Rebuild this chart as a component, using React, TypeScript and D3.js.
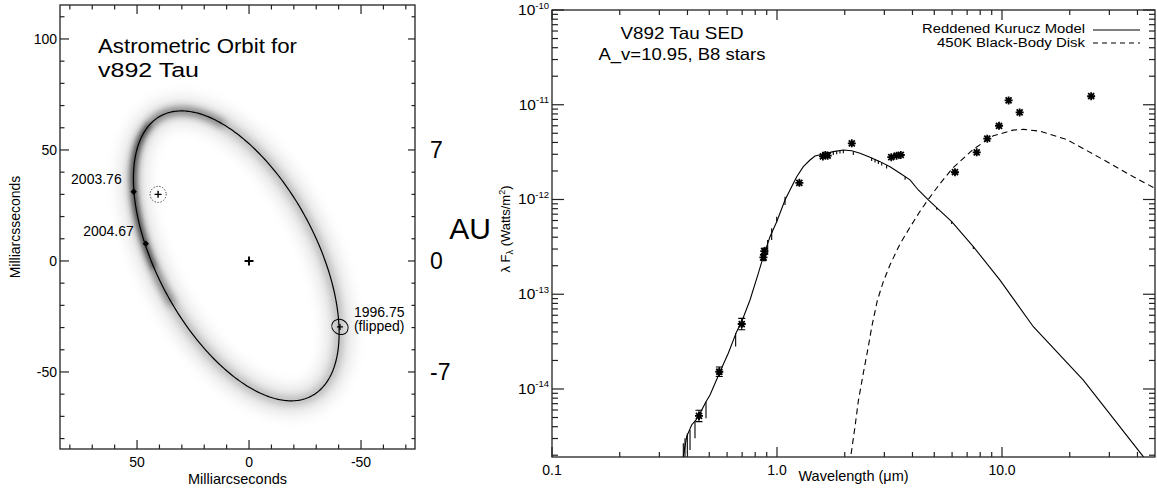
import React from 'react';
import * as d3 from 'd3';

const FONT = '"Liberation Sans", Arial, Helvetica, sans-serif';

// ---- Astrometric orbit (milliarcseconds) ----
const orbitCenter = [5.7, 2.3];
const orbitSemiAxes = [71.5, 35.5];
const orbitTiltDeg = 62;
const epochNames = ['2003.76', '2004.67'];
const epochRA = [51.5, 46.1];
const epochDec = [31.2, 7.8];
const flippedName = '1996.75';
const flippedRA = -40.6;
const flippedDec = -29.7;
const flippedErr = [3.8, 3.3];
const altRA = 40.6;
const altDec = 30.0;
const altErr = 3.6;
const masXTicks = [50, 0, -50];
const masYTicks = [100, 50, 0, -50];
const auTicks = [7, 0, -7];
const distancePc = 140;

// ---- SED ----
const kuruczLambda = [0.378, 0.3834, 0.3967, 0.4175, 0.4365, 0.4547, 0.4834, 0.5038, 0.558, 0.6074, 0.6615, 0.6965, 0.7586, 0.8259, 0.8692, 0.9309, 0.997, 1.0855, 1.1424, 1.2236, 1.309, 1.402, 1.475, 1.606, 1.779, 1.971, 2.148, 2.339, 2.591, 2.87, 3.178, 3.522, 3.901, 4.246, 4.703, 5.977, 7.456, 9.797, 13.78, 22.98, 42.46, 46];
const kuruczFlux = [1.2e-15, 1.93e-15, 3.14e-15, 4.17e-15, 4.71e-15, 5.53e-15, 7.35e-15, 8.65e-15, 1.52e-14, 2.38e-14, 4.03e-14, 5.13e-14, 8.69e-14, 1.66e-13, 2.49e-13, 4.05e-13, 5.83e-13, 9.89e-13, 1.26e-12, 1.74e-12, 2.22e-12, 2.61e-12, 2.88e-12, 3.02e-12, 3.2e-12, 3.33e-12, 3.27e-12, 3.08e-12, 2.79e-12, 2.51e-12, 2.22e-12, 1.89e-12, 1.61e-12, 1.26e-12, 9.89e-13, 5.83e-13, 3.18e-13, 1.41e-13, 4.54e-14, 1.24e-14, 1.93e-15, 1.4e-15];

// absorption lines in the model: wavelength, continuum, line bottom
const lineLambda = [0.3834, 0.39, 0.3994, 0.4106, 0.432, 0.4835, 0.655, 0.8845, 0.9089, 0.947, 0.997, 1.0855, 1.779, 1.842, 1.905, 1.971, 2.183, 2.635, 2.727, 2.82, 2.92, 3.07, 3.71, 5.127, 5.977, 7.456];
const lineTop = [2.67e-15, 3.02e-15, 3.4e-15, 3.69e-15, 4.55e-15, 7.35e-15, 3.9e-14, 3.18e-13, 3.74e-13, 4.97e-13, 6.58e-13, 1.07e-12, 3.2e-12, 3.25e-12, 3.3e-12, 3.33e-12, 3.2e-12, 2.75e-12, 2.65e-12, 2.56e-12, 2.46e-12, 2.3e-12, 1.74e-12, 8.2e-13, 5.83e-13, 3.18e-13];
const lineBottom = [1.0e-15, 1.0e-15, 2.1e-15, 2.27e-15, 3.02e-15, 4.91e-15, 2.8e-14, 2.21e-13, 2.6e-13, 3.74e-13, 5.83e-13, 8.75e-13, 2.95e-12, 3.0e-12, 3.05e-12, 3.08e-12, 2.95e-12, 2.55e-12, 2.45e-12, 2.37e-12, 2.28e-12, 2.12e-12, 1.62e-12, 7.8e-13, 5.5e-13, 3.0e-13];

const diskLambda = [2.05, 2.126, 2.222, 2.299, 2.419, 2.546, 2.636, 2.792, 2.969, 3.178, 3.522, 3.901, 4.32, 4.7, 5.3, 6.04, 7.46, 9.15, 11.2, 12.5, 14.75, 19.39, 27.27, 38.33, 47.9];
const diskFlux = [1.0e-15, 1.93e-15, 4.0e-15, 7.5e-15, 1.47e-14, 2.8e-14, 4.5e-14, 8.6e-14, 1.36e-13, 2.04e-13, 3.4e-13, 5.1e-13, 7.5e-13, 1.0e-12, 1.47e-12, 2.15e-12, 3.4e-12, 4.7e-12, 5.4e-12, 5.5e-12, 5.25e-12, 4.3e-12, 2.75e-12, 1.74e-12, 1.31e-12];

const photLambda = [0.45, 0.554, 0.697, 0.87, 0.878, 1.257, 1.6, 1.64, 1.68, 2.15, 3.22, 3.4, 3.55, 6.18, 7.72, 8.6, 9.7, 10.7, 11.98, 24.9];
const photFlux = [5.2e-15, 1.52e-14, 4.85e-14, 2.45e-13, 2.85e-13, 1.5e-12, 2.85e-12, 2.95e-12, 2.9e-12, 3.92e-12, 2.8e-12, 2.9e-12, 2.95e-12, 1.94e-12, 3.15e-12, 4.38e-12, 6.0e-12, 1.11e-11, 8.3e-12, 1.23e-11];
const photErrDex = [0.06, 0.05, 0.06, 0.03, 0.03, 0, 0, 0, 0, 0, 0, 0, 0, 0, 0, 0, 0, 0, 0, 0];

const xWaveLabels = [0.1, 1, 10];
const xWaveText = ['0.1', '1.0', '10.0'];
const yFluxExp = [-10, -11, -12, -13, -14];
const legendNames = ['Reddened Kurucz Model', '450K Black-Body Disk'];

export default function App() {
  const L = { left: 60, right: 415, top: 5, bottom: 449 };
  const R = { left: 552, right: 1155, top: 10, bottom: 457 };

  const xMas = d3.scaleLinear().domain([84.4, -74.1]).range([L.left, L.right]);
  const yMas = d3.scaleLinear().domain([-84.7, 115.3]).range([L.bottom, L.top]);
  const xWave = d3.scaleLog().domain([0.1, 47.86]).range([R.left, R.right]);
  const yFlux = d3.scaleLog().domain([1.915e-15, 1e-10]).range([R.bottom, R.top]);

  const tilt = (orbitTiltDeg * Math.PI) / 180;
  const orbitAt = (deg: number): [number, number] => {
    const t = (deg * Math.PI) / 180;
    const u = orbitSemiAxes[0] * Math.cos(t);
    const v = orbitSemiAxes[1] * Math.sin(t);
    return [
      orbitCenter[0] + u * Math.cos(tilt) - v * Math.sin(tilt),
      orbitCenter[1] + u * Math.sin(tilt) + v * Math.cos(tilt),
    ];
  };
  const orbitLine = d3.line<number>()
    .x(d => xMas(orbitAt(d)[0]))
    .y(d => yMas(orbitAt(d)[1]));
  const orbitPath = orbitLine(d3.range(0, 361, 1)) + 'Z';
  const arcPath = (a0: number, a1: number) => orbitLine(d3.range(a0, a1 + 1, 1)) as string;

  // left panel ticks
  const minorX = d3.range(-70, 81, 10);
  const minorY = d3.range(-80, 111, 10);
  const axisStroke = '#222';

  // right panel log ticks
  const xTickVals = [0.1, 1, 10].flatMap(d => d3.range(1, 10).map(m => ({ v: d * m, major: m === 1 })))
    .filter(t => t.v <= 47.86);
  const yTickVals = [1e-15, 1e-14, 1e-13, 1e-12, 1e-11].flatMap(d => d3.range(1, 10).map(m => ({ v: d * m, major: m === 1 })))
    .filter(t => t.v >= 1.915e-15)
    .concat([{ v: 1e-10, major: true }]);

  const lineGen = d3.line<[number, number]>().x(d => xWave(d[0])).y(d => yFlux(d[1]));
  const kuruczPath = lineGen(kuruczLambda.map((l, i) => [l, kuruczFlux[i]]))!;
  const diskPath = lineGen(diskLambda.map((l, i) => [l, diskFlux[i]]))!;

  const star = (s: number) =>
    `M${-s},0H${s}M0,${-s}V${s}M${-s * 0.75},${-s * 0.75}L${s * 0.75},${s * 0.75}M${-s * 0.75},${s * 0.75}L${s * 0.75},${-s * 0.75}`;

  const flipX = xMas(flippedRA);
  const flipY = yMas(flippedDec);
  const altX = xMas(altRA);
  const altY = yMas(altDec);

  return (
    <svg width={1157} height={494} style={{ position: 'absolute', left: 0, top: 0, background: '#fff' }} fontFamily={FONT}>
      <defs>
        <clipPath id="leftClip"><rect x={L.left} y={L.top} width={L.right - L.left} height={L.bottom - L.top} /></clipPath>
        <clipPath id="rightClip"><rect x={R.left} y={R.top} width={R.right - R.left} height={R.bottom - R.top} /></clipPath>
        <filter id="blurWide" filterUnits="userSpaceOnUse" x={0} y={0} width={1157} height={494}>
          <feGaussianBlur stdDeviation={7} />
        </filter>
        <filter id="blurMid" filterUnits="userSpaceOnUse" x={0} y={0} width={1157} height={494}>
          <feGaussianBlur stdDeviation={3.5} />
        </filter>
        <filter id="blurNarrow" filterUnits="userSpaceOnUse" x={0} y={0} width={1157} height={494}>
          <feGaussianBlur stdDeviation={2.2} />
        </filter>
      </defs>
      <rect x={0} y={0} width={1157} height={494} fill="#fff" />

      {/* ===== Left panel ===== */}
      <g clipPath="url(#leftClip)">
        <path d={orbitPath} fill="none" stroke="#000" strokeOpacity={0.1} strokeWidth={28} filter="url(#blurWide)" />
        <path d={orbitPath} fill="none" stroke="#000" strokeOpacity={0.18} strokeWidth={9} filter="url(#blurMid)" />
        <path d={arcPath(-95, 40)} fill="none" stroke="#000" strokeOpacity={0.35} strokeWidth={7} filter="url(#blurMid)" />
        <path d={arcPath(-80, -10)} fill="none" stroke="#000" strokeOpacity={0.45} strokeWidth={5} filter="url(#blurNarrow)" />
        <path d={orbitPath} fill="none" stroke="#000" strokeWidth={1.2} />
      </g>

      {/* epochs */}
      {epochNames.map((n, i) => {
        const x = xMas(epochRA[i]);
        const y = yMas(epochDec[i]);
        return (
          <g key={n}>
            <path d={`M${x},${y - 3.2}L${x + 3.2},${y}L${x},${y + 3.2}L${x - 3.2},${y}Z`} fill="#000" />
            <text x={x - 12} y={y - 8} textAnchor="end" fontSize={14}>{n}</text>
          </g>
        );
      })}
      <ellipse cx={flipX} cy={flipY} rx={flippedErr[0] * 2.24} ry={flippedErr[1] * 2.22} fill="none" stroke="#000" strokeWidth={1}
        transform={`rotate(30 ${flipX} ${flipY})`} />
      <path d={`M${flipX - 3},${flipY}H${flipX + 3}M${flipX},${flipY - 3}V${flipY + 3}`} stroke="#000" strokeWidth={1.3} />
      <text x={flipX + 14} y={flipY - 10} fontSize={14}>{flippedName}</text>
      <text x={flipX + 14} y={flipY + 4} fontSize={14}>(flipped)</text>
      <circle cx={altX} cy={altY} r={altErr * 2.23} fill="none" stroke="#000" strokeWidth={1} strokeDasharray="1 2" />
      <path d={`M${altX - 3.5},${altY}H${altX + 3.5}M${altX},${altY - 3.5}V${altY + 3.5}`} stroke="#000" strokeWidth={1.4} />
      <path d={`M${xMas(0) - 4.5},${yMas(0)}H${xMas(0) + 4.5}M${xMas(0)},${yMas(0) - 4.5}V${yMas(0) + 4.5}`} stroke="#000" strokeWidth={2} />

      <text x={98} y={53} fontSize={20.5} textLength={199} lengthAdjust="spacingAndGlyphs">Astrometric Orbit for</text>
      <text x={98} y={76.5} fontSize={20.5} textLength={101} lengthAdjust="spacingAndGlyphs">v892 Tau</text>

      {/* frame and ticks */}
      <rect x={L.left} y={L.top} width={L.right - L.left} height={L.bottom - L.top} fill="none" stroke={axisStroke} strokeWidth={1.3} />
      {minorX.map(v => {
        const x = xMas(v);
        const len = v % 50 === 0 ? 9 : 4.5;
        return (
          <g key={`lx${v}`}>
            <line x1={x} x2={x} y1={L.bottom} y2={L.bottom - len} stroke={axisStroke} strokeWidth={1.2} />
            <line x1={x} x2={x} y1={L.top} y2={L.top + len} stroke={axisStroke} strokeWidth={1.2} />
          </g>
        );
      })}
      {minorY.map(v => {
        const y = yMas(v);
        const major = v % 50 === 0;
        return (
          <g key={`ly${v}`}>
            <line x1={L.left} x2={L.left + (major ? 9 : 4.5)} y1={y} y2={y} stroke={axisStroke} strokeWidth={1.2} />
            <line x1={L.right} x2={L.right - (major ? 7 : 3.5)} y1={y} y2={y} stroke={axisStroke} strokeWidth={1.2} />
          </g>
        );
      })}
      {masXTicks.map(v => (
        <text key={`mxl${v}`} x={xMas(v)} y={466.5} textAnchor="middle" fontSize={14}>{v}</text>
      ))}
      {masYTicks.map(v => (
        <text key={`myl${v}`} x={57} y={yMas(v) + 5} textAnchor="end" fontSize={14}>{v}</text>
      ))}
      {auTicks.map(v => (
        <text key={`au${v}`} x={430} y={yMas((v * 1000) / distancePc) + 8.5} fontSize={23}>{v}</text>
      ))}
      <text x={470} y={239} textAnchor="middle" fontSize={30}>AU</text>
      <text x={(L.left + L.right) / 2} y={484} textAnchor="middle" fontSize={14.5}>Milliarcseconds</text>
      <text transform={`translate(20,${(L.top + L.bottom) / 2}) rotate(-90)`} textAnchor="middle" fontSize={14}>Milliarcsseconds</text>

      {/* ===== Right panel ===== */}
      <g clipPath="url(#rightClip)">
        <path d={kuruczPath} fill="none" stroke="#000" strokeWidth={1.1} />
        {lineLambda.map((l, i) => (
          <line key={`ab${i}`} x1={xWave(l)} x2={xWave(l)} y1={yFlux(lineTop[i])} y2={yFlux(lineBottom[i])} stroke="#000" strokeWidth={1.1} />
        ))}
        <path d={diskPath} fill="none" stroke="#000" strokeWidth={1.1} strokeDasharray="6 4" />
      </g>

      {photLambda.map((l, i) => {
        const x = xWave(l);
        const y = yFlux(photFlux[i]);
        const e = photErrDex[i];
        return (
          <g key={`ph${i}`}>
            {e > 0 && (
              <path
                d={`M${x},${yFlux(photFlux[i] * 10 ** e)}V${yFlux(photFlux[i] / 10 ** e)}M${x - 3.5},${yFlux(photFlux[i] * 10 ** e)}H${x + 3.5}M${x - 3.5},${yFlux(photFlux[i] / 10 ** e)}H${x + 3.5}`}
                stroke="#000" strokeWidth={1.1} fill="none" />
            )}
            <path transform={`translate(${x},${y})`} d={star(4)} stroke="#000" strokeWidth={1.8} fill="none" />
          </g>
        );
      })}

      <rect x={R.left} y={R.top} width={R.right - R.left} height={R.bottom - R.top} fill="none" stroke={axisStroke} strokeWidth={1.3} />
      {xTickVals.map((t, i) => {
        const x = xWave(t.v);
        const len = t.major ? 10 : 5;
        return (
          <g key={`rx${i}`}>
            <line x1={x} x2={x} y1={R.bottom} y2={R.bottom - len} stroke={axisStroke} strokeWidth={1.2} />
            <line x1={x} x2={x} y1={R.top} y2={R.top + len} stroke={axisStroke} strokeWidth={1.2} />
          </g>
        );
      })}
      {yTickVals.map((t, i) => {
        const y = yFlux(t.v);
        const len = t.major ? 12 : 6;
        return (
          <g key={`ry${i}`}>
            <line x1={R.left} x2={R.left + len} y1={y} y2={y} stroke={axisStroke} strokeWidth={1.2} />
            <line x1={R.right} x2={R.right - len} y1={y} y2={y} stroke={axisStroke} strokeWidth={1.2} />
          </g>
        );
      })}
      {xWaveLabels.map((v, i) => (
        <text key={`xwl${i}`} x={xWave(v)} y={475} textAnchor="middle" fontSize={14}>{xWaveText[i]}</text>
      ))}
      {yFluxExp.map(p => (
        <text key={`yfl${p}`} x={549} y={yFlux(10 ** p) + 5} textAnchor="end" fontSize={15.5}>
          10<tspan dy={-6.5} fontSize={9.5}>{p}</tspan>
        </text>
      ))}
      <text x={(R.left + R.right) / 2} y={481} textAnchor="middle" fontSize={14.5}>Wavelength (μm)</text>
      <text transform={`translate(510,229) rotate(-90)`} textAnchor="middle" fontSize={13}>
        λ F<tspan fontSize={9} dy={3}>λ</tspan>
        <tspan dy={-3}> (Watts/m</tspan>
        <tspan fontSize={9} dy={-5}>2</tspan>
        <tspan dy={5}>)</tspan>
      </text>

      <text x={682} y={38.5} textAnchor="middle" fontSize={16.5} textLength={123} lengthAdjust="spacingAndGlyphs">V892 Tau SED</text>
      <text x={682} y={60} textAnchor="middle" fontSize={16.5} textLength={167} lengthAdjust="spacingAndGlyphs">A_v=10.95, B8 stars</text>

      <text x={1085} y={32.5} textAnchor="end" fontSize={12.3} textLength={163} lengthAdjust="spacingAndGlyphs">{legendNames[0]}</text>
      <line x1={1093} x2={1140} y1={30} y2={30} stroke="#000" strokeWidth={1.1} />
      <text x={1085} y={46.5} textAnchor="end" fontSize={12.3} textLength={148} lengthAdjust="spacingAndGlyphs">{legendNames[1]}</text>
      <line x1={1093} x2={1140} y1={43} y2={43} stroke="#000" strokeWidth={1.1} strokeDasharray="5 4" />
    </svg>
  );
}
